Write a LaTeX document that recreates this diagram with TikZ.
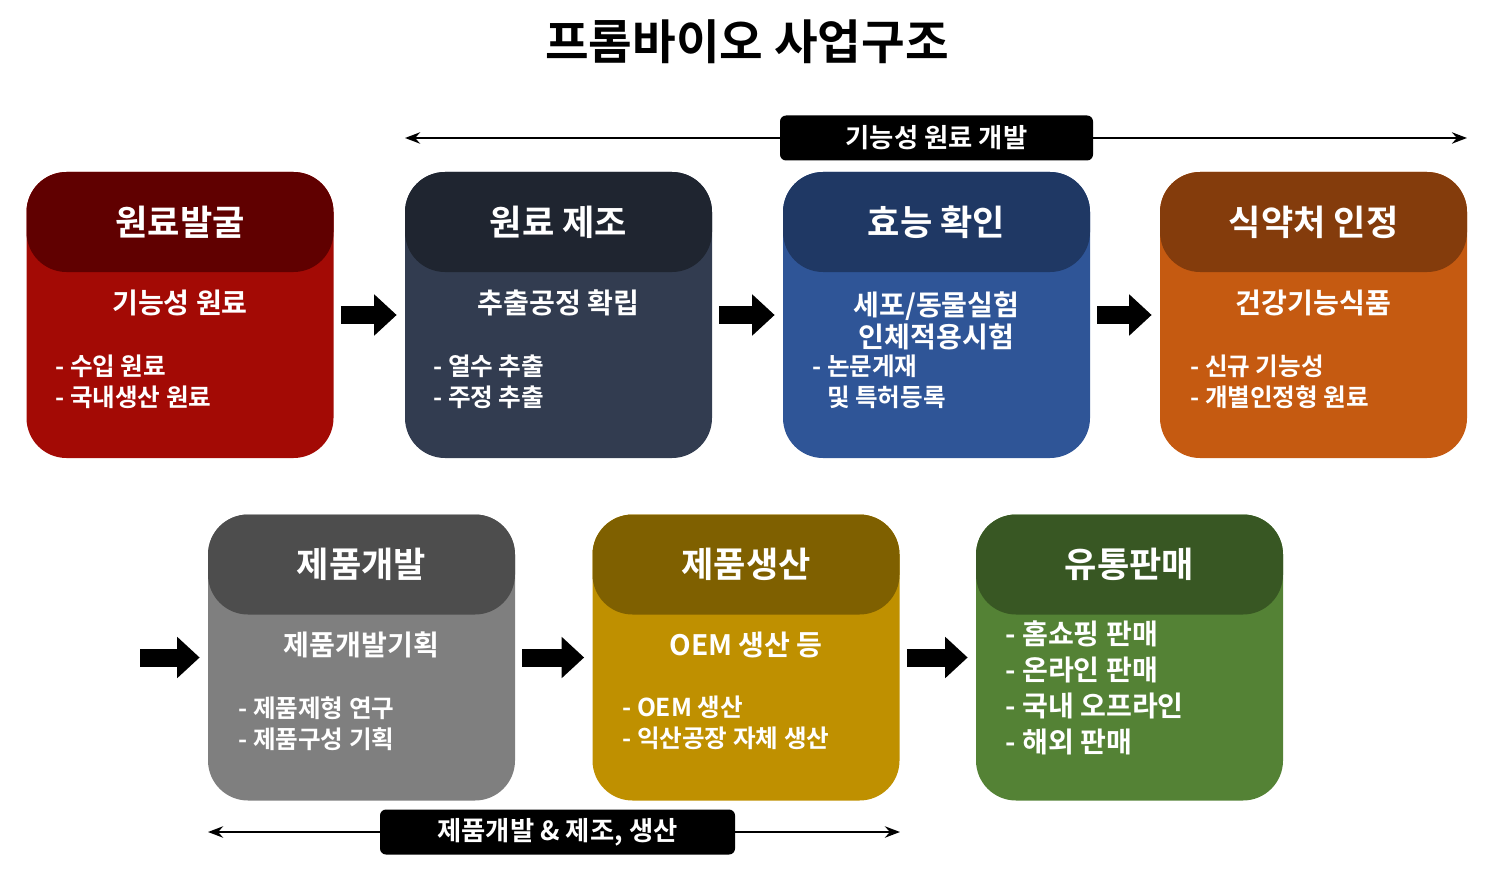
\documentclass[tikz,border=0pt]{standalone}
\usepackage{fontspec}
\setmainfont{Noto Sans CJK KR}[BoldFont={Noto Sans CJK KR Bold}]
\usetikzlibrary{positioning,arrows.meta}

\definecolor{redhead}{HTML}{600000}\definecolor{redbody}{HTML}{A30A05}
\definecolor{navyhead}{HTML}{1F2530}\definecolor{navybody}{HTML}{323C50}
\definecolor{bluehead}{HTML}{1F3864}\definecolor{bluebody}{HTML}{2F5597}
\definecolor{orghead}{HTML}{843C0C}\definecolor{orgbody}{HTML}{C55A11}
\definecolor{grayhead}{HTML}{4D4D4D}\definecolor{graybody}{HTML}{7F7F7F}
\definecolor{goldhead}{HTML}{7F6000}\definecolor{goldbody}{HTML}{BF9000}
\definecolor{greenhead}{HTML}{385723}\definecolor{greenbody}{HTML}{548235}

\tikzset{
  stagebox/.style={rounded corners=0.8cm, minimum width=6.14cm, minimum height=5.72cm, inner sep=0pt},
  headbox/.style={rounded corners=0.8cm, minimum width=6.14cm, minimum height=2cm, inner sep=0pt,
    text=white, font=\bfseries\fontsize{20}{24}\selectfont},
  subtitle/.style={text=white, font=\bfseries\fontsize{16}{20}\selectfont, align=center},
  itemlist/.style={text=white, font=\bfseries\fontsize{14}{17.6}\selectfont, align=left, anchor=north west, inner sep=0pt},
  blockarr/.style={line width=0.36cm, -{Triangle[length=0.45cm,width=0.8cm]}, shorten <=0.14cm, shorten >=0.16cm},
  spanarr/.style={line width=1.6pt, {Stealth[length=0.3cm]}-{Stealth[length=0.3cm]}},
  spanlabel/.style={fill=black, text=white, rounded corners=0.12cm, inner sep=0pt,
    font=\bfseries\fontsize{15}{18}\selectfont}
}

\begin{document}
\begin{tikzpicture}
  \useasboundingbox (0,0) rectangle (29.88,-17.44);
  \node[font=\bfseries\fontsize{27}{32}\selectfont] (title) at (14.94,-0.84) {프롬바이오 사업구조};

  % top row
  \node[stagebox, fill=redbody] (b1) at (3.6,-6.3) {};
  \node[headbox, fill=redhead, anchor=north] (b1h) at (b1.north) {원료발굴};
  \node[stagebox, fill=navybody] (b2) at (11.17,-6.3) {};
  \node[headbox, fill=navyhead, anchor=north] (b2h) at (b2.north) {원료 제조};
  \node[stagebox, fill=bluebody] (b3) at (18.73,-6.3) {};
  \node[headbox, fill=bluehead, anchor=north] (b3h) at (b3.north) {효능 확인};
  \node[stagebox, fill=orgbody] (b4) at (26.27,-6.3) {};
  \node[headbox, fill=orghead, anchor=north] (b4h) at (b4.north) {식약처 인정};

  \node[subtitle] (b1s) at (3.6,-6.06) {기능성 원료};
  \node[itemlist] (b1l) at (1.1,-7.1) {- 수입 원료\\- 국내생산 원료};
  \node[subtitle] (b2s) at (11.17,-6.06) {추출공정 확립};
  \node[itemlist] (b2l) at (8.66,-7.1) {- 열수 추출\\- 주정 추출};
  \node[subtitle, font=\bfseries\fontsize{16}{18.5}\selectfont] (b3s) at (18.73,-6.42) {세포/동물실험\\인체적용시험};
  \node[itemlist] (b3l) at (16.24,-7.1) {- 논문게재\\\phantom{- }및 특허등록};
  \node[subtitle] (b4s) at (26.27,-6.06) {건강기능식품};
  \node[itemlist] (b4l) at (23.8,-7.1) {- 신규 기능성\\- 개별인정형 원료};

  % bottom row
  \node[stagebox, fill=graybody] (b5) at (7.23,-13.15) {};
  \node[headbox, fill=grayhead, anchor=north] (b5h) at (b5.north) {제품개발};
  \node[stagebox, fill=goldbody] (b6) at (14.92,-13.15) {};
  \node[headbox, fill=goldhead, anchor=north] (b6h) at (b6.north) {제품생산};
  \node[stagebox, fill=greenbody] (b7) at (22.59,-13.15) {};
  \node[headbox, fill=greenhead, anchor=north] (b7h) at (b7.north) {유통판매};

  \node[subtitle] (b5s) at (7.23,-12.9) {제품개발기획};
  \node[itemlist] (b5l) at (4.76,-13.92) {- 제품제형 연구\\- 제품구성 기획};
  \node[subtitle] (b6s) at (14.92,-12.9) {OEM 생산 등};
  \node[itemlist] (b6l) at (12.44,-13.92) {- OEM 생산\\- 익산공장 자체 생산};
  \node[itemlist, font=\bfseries\fontsize{16}{20.5}\selectfont] (b7l) at (20.1,-12.4) {- 홈쇼핑 판매\\- 온라인 판매\\- 국내 오프라인\\- 해외 판매};

  % flow arrows
  \draw[blockarr] (b1) -- (b2);
  \draw[blockarr] (b2) -- (b3);
  \draw[blockarr] (b3) -- (b4);
  \coordinate (start) at (2.66,-13.15);
  \draw[blockarr] (start) -- (b5);
  \draw[blockarr] (b5) -- (b6);
  \draw[blockarr] (b6) -- (b7);

  % span arrows
  \coordinate (topL) at (8.1,-2.76);
  \coordinate (topR) at (29.34,-2.76);
  \draw[spanarr] (topL) -- (topR);
  \node[spanlabel, minimum width=6.26cm, minimum height=0.9cm] (topspan) at (18.73,-2.76) {기능성 원료 개발};
  \coordinate (botL) at (4.16,-16.64);
  \coordinate (botR) at (18.0,-16.64);
  \draw[spanarr] (botL) -- (botR);
  \node[spanlabel, minimum width=7.1cm, minimum height=0.9cm] (botspan) at (11.15,-16.64) {제품개발 \& 제조, 생산};
\end{tikzpicture}
\end{document}
